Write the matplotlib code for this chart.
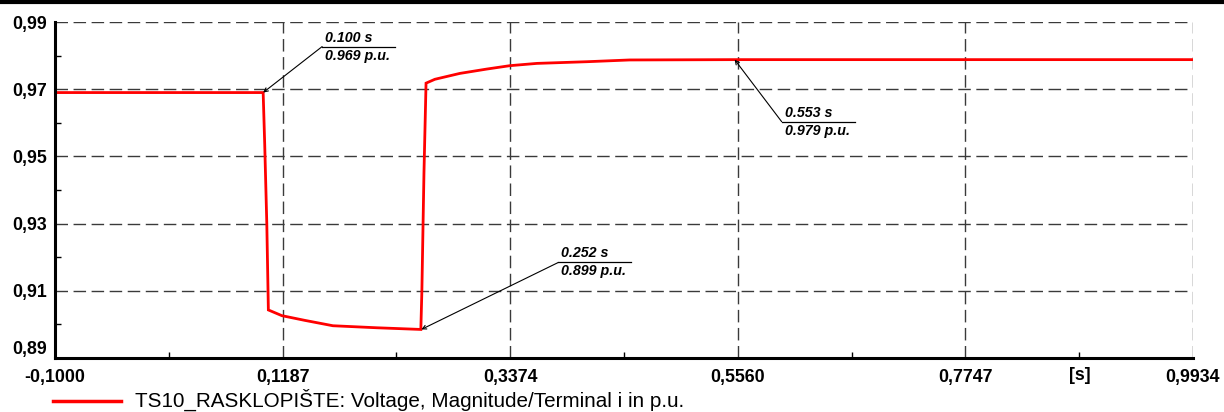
import matplotlib
matplotlib.use("Agg")
import matplotlib.pyplot as plt
from matplotlib.lines import Line2D
import numpy as np

# ---- data ----
time_s = [-0.1, 0.100, 0.1015, 0.1035, 0.1045, 0.105, 0.118, 0.140, 0.167, 0.209,
          0.2515, 0.2525, 0.2545, 0.2565, 0.265, 0.289, 0.315, 0.337, 0.363, 0.411,
          0.452, 0.553, 0.9934]
voltage_pu = [0.969, 0.969, 0.9535, 0.930, 0.913, 0.9043, 0.9026, 0.9012, 0.8996, 0.8990,
              0.8985, 0.910, 0.945, 0.9718, 0.97295, 0.9747, 0.9760, 0.9770, 0.97768, 0.97818,
              0.9787, 0.9788, 0.9788]
x_ticks = [-0.1000, 0.1187, 0.3374, 0.5560, 0.7747, 0.9934]
x_tick_labels = ["-0,1000", "0,1187", "0,3374", "0,5560", "0,7747", "0,9934"]
y_ticks = [0.89, 0.91, 0.93, 0.95, 0.97, 0.99]
y_tick_labels = ["0,89", "0,91", "0,93", "0,95", "0,97", "0,99"]
ann_t = [0.100, 0.252, 0.553]
ann_v = [0.969, 0.899, 0.979]
ann_plot_v = [0.969, 0.8985, 0.9788]
series_label = "TS10_RASKLOPIŠTE: Voltage, Magnitude/Terminal i in p.u."

plt.rcParams['font.family'] = ['Liberation Sans', 'DejaVu Sans']

W, H = 1224, 412
fig = plt.figure(figsize=(W / 100, H / 100), dpi=100)
ax = fig.add_axes([55 / W, (H - 358) / H, (1193 - 55) / W, (358 - 22) / H])

ax.plot(time_s, voltage_pu, color="#ff0000", lw=2.0, solid_joinstyle="miter", zorder=3)

ax.set_xlim(x_ticks[0], x_ticks[-1])
ax.set_ylim(y_ticks[0], y_ticks[-1])
ax.set_xticks(x_ticks)
ax.set_xticklabels(x_tick_labels)
ax.set_yticks(y_ticks)
ax.set_yticklabels(y_tick_labels)
xm = [(a + b) / 2 for a, b in zip(x_ticks[:-1], x_ticks[1:])]
ym = [(a + b) / 2 for a, b in zip(y_ticks[:-1], y_ticks[1:])]
ax.set_xticks(xm, minor=True)
ax.set_yticks(ym, minor=True)

ax.tick_params(axis="both", which="major", length=0, labelsize=12.8)
ax.tick_params(axis="y", which="major", pad=6)
ax.tick_params(axis="x", which="major", pad=8)
ax.tick_params(axis="both", which="minor", direction="in", length=4, width=1, color="black")
for lab in ax.get_xticklabels() + ax.get_yticklabels():
    lab.set_fontweight("bold")
# lowest y label sits slightly higher
ax.get_yticklabels()[0].set_va("bottom")

ax.grid(True, which="major", color="#3a3a3a", lw=1.0, ls=(0, (9, 4)))
for s in ["top", "right"]:
    ax.spines[s].set_visible(False)
for s in ["left", "bottom"]:
    ax.spines[s].set_linewidth(2.2)
    ax.spines[s].set_zorder(4)

# unit label
ax.text(1080 / W, (H - 375) / H, "[s]", transform=fig.transFigure, ha="center", va="center",
        fontsize=12.8, fontweight="bold")

# annotations
offsets = [(59, 46), (137, 67), (47, -62)]
for t, v, pv, (dx, dy) in zip(ann_t, ann_v, ann_plot_v, offsets):
    ax.annotate("", xy=(t, pv), xytext=(dx, dy), textcoords="offset pixels",
                arrowprops=dict(arrowstyle="->", lw=0.8, color="black", mutation_scale=7,
                                shrinkA=0, shrinkB=0), annotation_clip=False, zorder=5)
    p = ax.transData.transform((t, pv))
    x0, y0 = p[0] + dx, p[1] + dy
    fig.add_artist(Line2D([x0 / W, (x0 + 73) / W], [y0 / H, y0 / H], color="black", lw=0.9,
                          transform=fig.transFigure))
    fig.text((x0 + 3) / W, (y0 + 2) / H, f"{t:.3f} s", ha="left", va="bottom",
             fontsize=10.3, fontweight="bold", style="italic")
    fig.text((x0 + 3) / W, (y0 - 2) / H, f"{v:.3f} p.u.", ha="left", va="top",
             fontsize=10.3, fontweight="bold", style="italic")

# legend
fig.add_artist(Line2D([53 / W, 121 / W], [(H - 401) / H] * 2, color="#ff0000", lw=2.5,
                      transform=fig.transFigure))
fig.text(135 / W, (H - 407) / H, series_label, ha="left", va="baseline", fontsize=14.9)

# top border
fig.add_artist(Line2D([0, 1], [1 - 1.5 / H] * 2, color="black", lw=3, transform=fig.transFigure))

fig.savefig("out.png", dpi=100)
